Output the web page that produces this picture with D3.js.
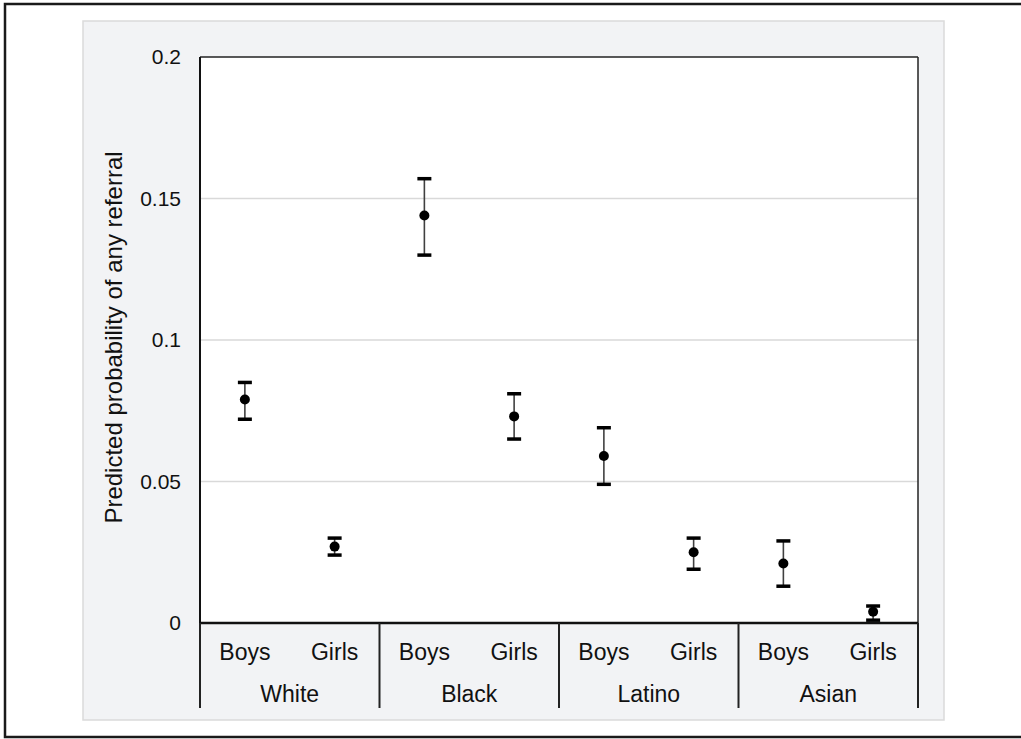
<!DOCTYPE html>
<html><head><meta charset="utf-8">
<script src="https://cdn.jsdelivr.net/npm/d3@7"></script>
<style>html,body{margin:0;padding:0;background:#fff;}svg{display:block;font-family:"Liberation Sans",Arial,sans-serif;}</style>
</head><body>
<svg id="c" width="1021" height="739"></svg>
<script>
const groups = ["White", "Black", "Latino", "Asian"];
const sexes = ["Boys", "Girls"];
const estimates = [0.079, 0.027, 0.144, 0.073, 0.059, 0.025, 0.021, 0.004];
const lowerCI = [0.072, 0.024, 0.130, 0.065, 0.049, 0.019, 0.013, 0.001];
const upperCI = [0.085, 0.030, 0.157, 0.081, 0.069, 0.030, 0.029, 0.006];
const yTicks = [0, 0.05, 0.1, 0.15, 0.2];
const yTickLabels = ["0", "0.05", "0.1", "0.15", "0.2"];
const yTitle = "Predicted probability of any referral";

const svg = d3.select("#c");
const L = 200, R = 918, T = 57, B = 623;

// outer frame
svg.append("rect").attr("x", 5).attr("y", 4).attr("width", 1030).attr("height", 733)
  .attr("fill", "#fff").attr("stroke", "#1a1a1a").attr("stroke-width", 2.5);
// gray panel
svg.append("rect").attr("x", 83).attr("y", 21).attr("width", 861).attr("height", 699)
  .attr("fill", "#f2f3f5").attr("stroke", "#dadada").attr("stroke-width", 1.5);
// plot area
svg.append("rect").attr("x", L).attr("y", T).attr("width", R - L).attr("height", B - T)
  .attr("fill", "#fff");

const keys = [];
groups.forEach(g => sexes.forEach(s => keys.push(g + "|" + s)));
const x = d3.scaleBand().domain(keys).range([L, R]);
const xg = d3.scaleBand().domain(groups).range([L, R]);
const y = d3.scaleLinear().domain([0, 0.2]).range([B, T]);

// gridlines
svg.append("g").selectAll("line").data(yTicks.filter(t => t > 0 && t < 0.2)).join("line")
  .attr("x1", L).attr("x2", R).attr("y1", d => y(d)).attr("y2", d => y(d))
  .attr("stroke", "#d9d9d9").attr("stroke-width", 1.5);

// plot border (top, left, right)
svg.append("line").attr("x1", L).attr("x2", R).attr("y1", y(0.2)).attr("y2", y(0.2)).attr("stroke", "#222").attr("stroke-width", 1.5);
svg.append("line").attr("x1", R).attr("x2", R).attr("y1", T).attr("y2", B).attr("stroke", "#222").attr("stroke-width", 1.5);
svg.append("line").attr("x1", L).attr("x2", L).attr("y1", T).attr("y2", B).attr("stroke", "#111").attr("stroke-width", 2);

// y axis labels
const yAxis = d3.axisLeft(y).tickValues(yTicks).tickFormat((d, i) => yTickLabels[i]).tickSize(0).tickPadding(19);
const ya = svg.append("g").attr("transform", `translate(${L},0)`).call(yAxis);
ya.select(".domain").remove();
ya.selectAll("text").attr("font-size", 21).attr("fill", "#111").attr("font-family", "Liberation Sans, Arial, sans-serif");

// y title
svg.append("text").attr("transform", `translate(122,337.5) rotate(-90)`)
  .attr("text-anchor", "middle").attr("font-size", 24).attr("fill", "#111").text(yTitle);

// zero line
svg.append("line").attr("x1", L).attr("x2", R).attr("y1", y(0)).attr("y2", y(0)).attr("stroke", "#111").attr("stroke-width", 2.5);

// group separators
const seps = groups.map(g => xg(g)).concat([R]);
svg.append("g").selectAll("line").data(seps).join("line")
  .attr("x1", d => d).attr("x2", d => d).attr("y1", B).attr("y2", 708)
  .attr("stroke", "#222").attr("stroke-width", 2);

// category labels
svg.append("g").selectAll("text").data(keys).join("text")
  .attr("x", d => x(d) + x.bandwidth() / 2).attr("y", 660)
  .attr("text-anchor", "middle").attr("font-size", 23).attr("fill", "#111")
  .text(d => d.split("|")[1]);
svg.append("g").selectAll("text").data(groups).join("text")
  .attr("x", d => xg(d) + xg.bandwidth() / 2).attr("y", 702)
  .attr("text-anchor", "middle").attr("font-size", 23).attr("fill", "#111")
  .text(d => d);

// error bars
const data = keys.map((k, i) => ({k, est: estimates[i], lo: lowerCI[i], hi: upperCI[i]}));
const cx = d => x(d.k) + x.bandwidth() / 2;
const eb = svg.append("g");
eb.selectAll("line.v").data(data).join("line").attr("class", "v")
  .attr("x1", cx).attr("x2", cx).attr("y1", d => y(d.lo)).attr("y2", d => y(d.hi))
  .attr("stroke", "#404040").attr("stroke-width", 1.6);
["lo", "hi"].forEach(f => {
  eb.selectAll("line.c" + f).data(data).join("line").attr("class", "c" + f)
    .attr("x1", d => cx(d) - 7).attr("x2", d => cx(d) + 7)
    .attr("y1", d => y(d[f])).attr("y2", d => y(d[f]))
    .attr("stroke", "#000").attr("stroke-width", 3.5);
});
eb.selectAll("circle").data(data).join("circle")
  .attr("cx", cx).attr("cy", d => y(d.est)).attr("r", 5).attr("fill", "#000");
</script>
</body></html>
